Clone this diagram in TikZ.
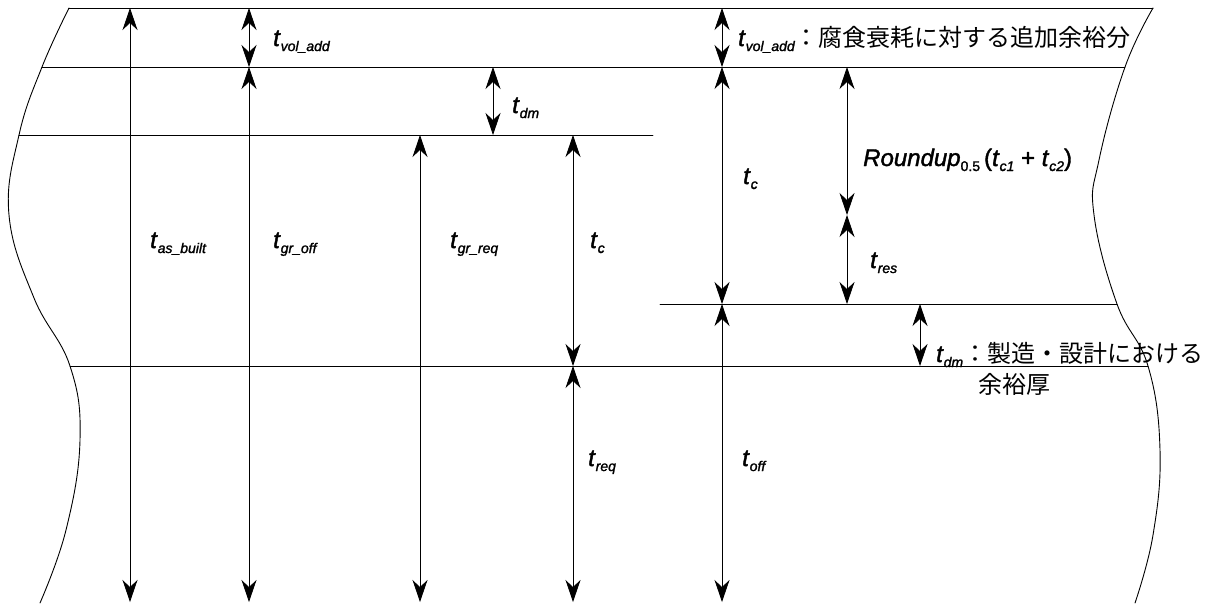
\documentclass[tikz,border=0pt]{standalone}
\usepackage{fontspec}
\setmainfont{Liberation Sans}[FakeBold=1.6]
\newfontfamily\jpfont{Noto Sans CJK JP}
\usetikzlibrary{arrows.meta}
% thickness symbol with lowered subscript
\newcommand\thk[1]{\textit{t}\raisebox{-5pt}{\fontsize{14}{14}\selectfont\itshape #1}}
\begin{document}
\begin{tikzpicture}[x=1pt, y=-1pt, line cap=round, line join=round, >={Stealth[length=22pt,width=15pt,inset=7pt]}]
	\tikzset{dim/.style={<->, line width=0.7pt}, lab/.style={anchor=base west, inner sep=0pt, font=\fontsize{24}{24}\selectfont}}
	\useasboundingbox (0,0) rectangle (1214,603);
	% ends of the level lines on the two broken edges
	\coordinate (topL) at (69,8);    \coordinate (topR) at (1153,8);
	\coordinate (volL) at (42,67);   \coordinate (volR) at (1125,67);
	\coordinate (grL) at (19,135);   \coordinate (grR) at (653,135);
	\coordinate (resL) at (660,304); \coordinate (resR) at (1117,304);
	\coordinate (reqL) at (70,366);  \coordinate (reqR) at (1148,366);
	% broken edges
	\draw[line width=0.9pt] plot[smooth, tension=0.7] coordinates {(topL) (volL) (grL) (9,215) (34,298) (reqL) (80,440) (66,530) (40,603)};
	\draw[line width=0.9pt] plot[smooth, tension=0.7] coordinates {(topR) (volR) (1099,160) (1094,215) (resR) (reqR) (1160,450) (1153,535) (1135,603)};
	% level lines
	\draw[line width=0.8pt] (topL) -- (topR);
	\draw[line width=0.8pt] (volL) -- (volR);
	\draw[line width=0.8pt] (grL) -- (grR);
	\draw[line width=0.8pt] (resL) -- (resR);
	\draw[line width=0.8pt] (reqL) -- (reqR);
	% dimension arrows
	\coordinate (a1t) at (130,8);   \coordinate (a1b) at (130,602);
	\coordinate (a2t) at (249,8);   \coordinate (a2m) at (249,67);  \coordinate (a2b) at (249,602);
	\coordinate (a3t) at (420,135); \coordinate (a3b) at (420,602);
	\coordinate (a4t) at (493,67);  \coordinate (a4b) at (493,135);
	\coordinate (a5t) at (573,135); \coordinate (a5m) at (573,366); \coordinate (a5b) at (573,602);
	\coordinate (a6t) at (722,8);   \coordinate (a6m) at (722,67);  \coordinate (a6n) at (722,304); \coordinate (a6b) at (722,602);
	\coordinate (a7t) at (847,67);  \coordinate (a7m) at (847,215); \coordinate (a7b) at (847,304);
	\coordinate (a8t) at (920,304); \coordinate (a8b) at (920,366);
	\draw[dim] (a1t) -- (a1b);
	\draw[dim] (a2t) -- (a2m);
	\draw[dim] (a2m) -- (a2b);
	\draw[dim] (a3t) -- (a3b);
	\draw[dim] (a4t) -- (a4b);
	\draw[dim] (a5t) -- (a5m);
	\draw[dim] (a5m) -- (a5b);
	\draw[dim] (a6t) -- (a6m);
	\draw[dim] (a6m) -- (a6n);
	\draw[dim] (a6n) -- (a6b);
	\draw[dim] (a7t) -- (a7m);
	\draw[dim] (a7m) -- (a7b);
	\draw[dim] (a8t) -- (a8b);
	% labels
	\node[lab] (volA) at (273,46) {\thk{vol\_add}};
	\node[lab] (volB) at (738,46) {\thk{vol\_add}{\jpfont ：腐食衰耗に対する追加余裕分}};
	\node[lab] (dmA) at (512,113) {\thk{dm}};
	\node[lab] (asb) at (150,248) {\thk{as\_built}};
	\node[lab] (groff) at (273,248) {\thk{gr\_off}};
	\node[lab] (grreq) at (450,248) {\thk{gr\_req}};
	\node[lab] (tcA) at (590,248) {\thk{c}};
	\node[lab] (tcB) at (743,184) {\thk{c}};
	\node[lab] (rnd) at (863,166) {\textit{Roundup}\raisebox{-5pt}{\fontsize{14}{14}\selectfont 0.5}\,(\thk{c1} + \thk{c2})};
	\node[lab] (res) at (870,268) {\thk{res}};
	\node[lab] (req) at (588,466) {\thk{req}};
	\node[lab] (off) at (742,466) {\thk{off}};
	\node[lab] (dmB) at (936,362) {\thk{dm}{\jpfont ：製造・設計における}};
	\node[lab] (dmC) at (978,393) {\jpfont 余裕厚};
\end{tikzpicture}
\end{document}
